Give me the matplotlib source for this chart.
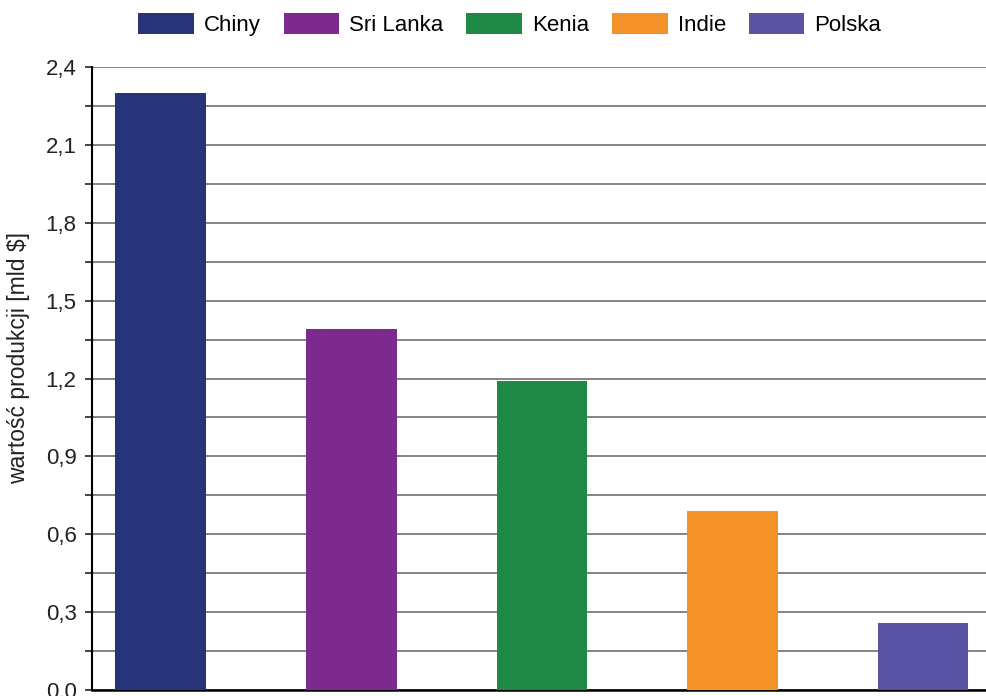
import matplotlib.pyplot as plt
import numpy as np
from matplotlib.patches import Patch
from matplotlib.ticker import FuncFormatter, MultipleLocator

plt.rcParams['font.family'] = ['Liberation Sans', 'DejaVu Sans']

countries = ["Chiny", "Sri Lanka", "Kenia", "Indie", "Polska"]
values = [2.3, 1.39, 1.19, 0.69, 0.26]
colors = ["#27347a", "#7d2a8e", "#1e8a45", "#f39229", "#5a53a3"]

fig = plt.figure(figsize=(9.86, 6.96), dpi=100)
ax = fig.add_axes([0.0933, 0.0086, 0.9067, 0.895])

x = np.arange(len(countries))
ax.bar(x, values, width=0.475, color=colors, zorder=3)

ax.set_xlim(-0.36, 4.33)
ax.set_ylim(0, 2.4)
ax.yaxis.set_major_locator(MultipleLocator(0.3))
ax.yaxis.set_minor_locator(MultipleLocator(0.15))
ax.yaxis.set_major_formatter(FuncFormatter(lambda v, p: f"{v:.1f}".replace(".", ",")))
ax.grid(axis="y", which="both", color="#7a7a7a", linewidth=1.3, zorder=0)
ax.set_xticks([])
ax.tick_params(axis="y", which="both", length=5, width=1.2, direction="out",
               labelsize=16, colors="#222222", pad=6)

for s in ["top", "right"]:
    ax.spines[s].set_visible(False)
ax.spines["left"].set_linewidth(1.5)
ax.spines["bottom"].set_linewidth(1.8)

# y label sits a bit above the axes centre in the original
fig.text(19 / 986, 1 - 358 / 696, "wartość produkcji [mld $]", rotation=90,
         ha="center", va="center", fontsize=16.5, color="#222222")

handles = [Patch(facecolor=c, label=n) for c, n in zip(colors, countries)]
fig.legend(handles=handles, loc="upper center", bbox_to_anchor=(0.517, 1.01), ncol=5,
           frameon=False, fontsize=16, handlelength=2.5, handleheight=1.1,
           columnspacing=1.03, handletextpad=0.45)

fig.savefig("out.png", dpi=100)
